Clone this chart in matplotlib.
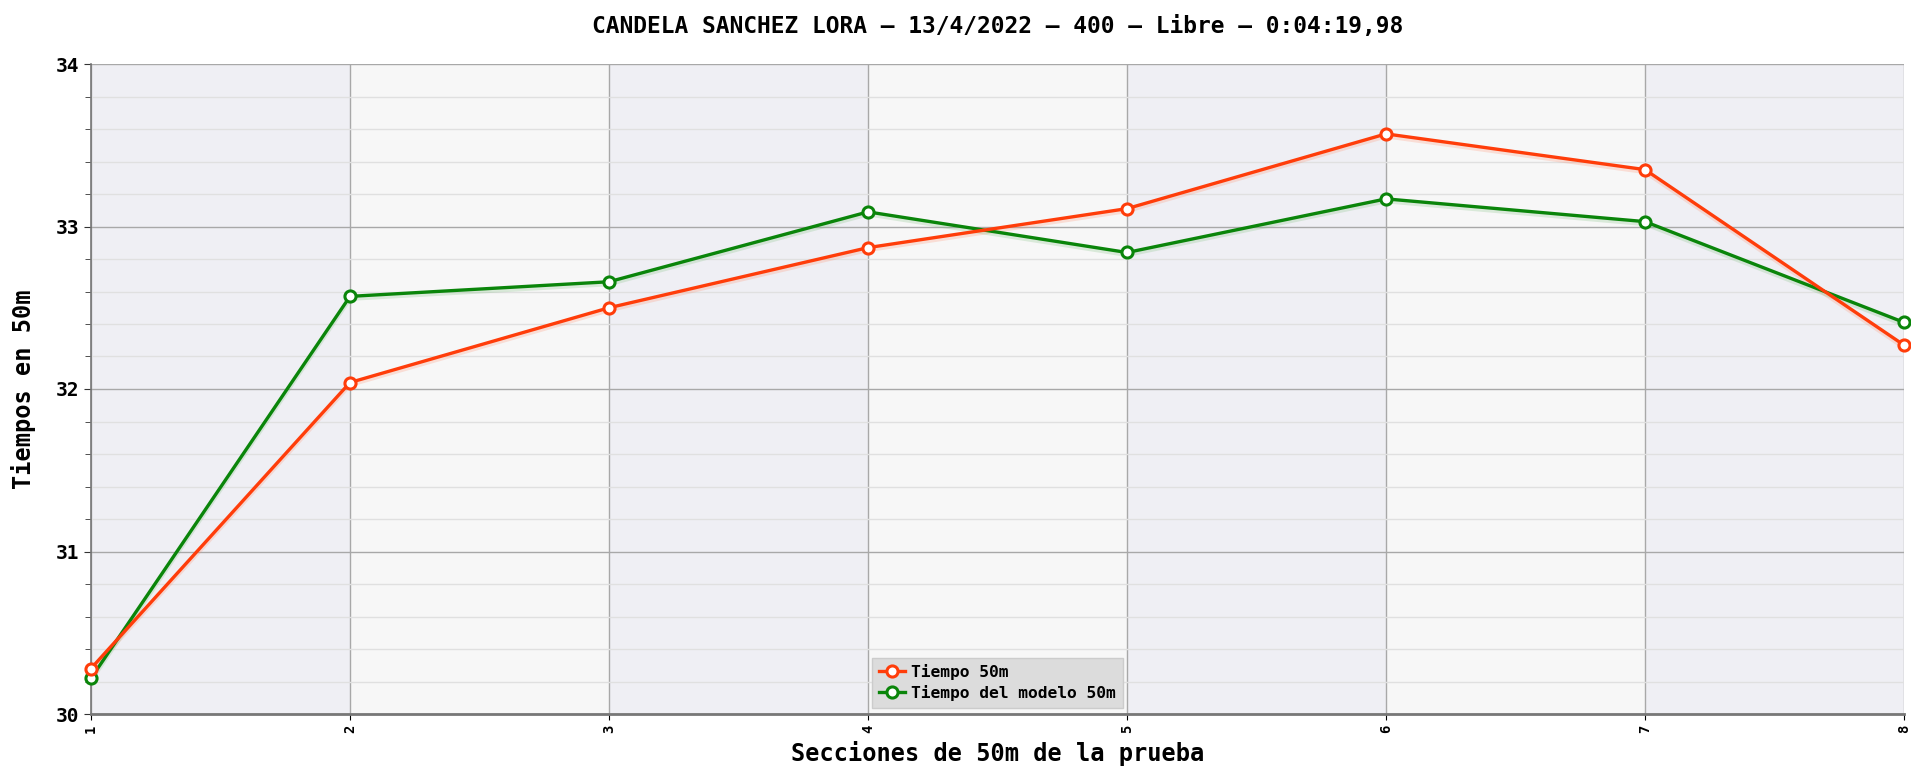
import numpy as np
import matplotlib.pyplot as plt
from matplotlib.ticker import MultipleLocator

plt.rcParams['font.family'] = ['DejaVu Sans Mono']
plt.rcParams['font.weight'] = 'bold'

secciones = [1, 2, 3, 4, 5, 6, 7, 8]
tiempo_50m = [30.28, 32.04, 32.50, 32.87, 33.11, 33.57, 33.35, 32.27]
tiempo_modelo = [30.22, 32.57, 32.66, 33.09, 32.84, 33.17, 33.03, 32.41]

titulo = "CANDELA SANCHEZ LORA \u2013 13/4/2022 \u2013 400 \u2013 Libre \u2013 0:04:19,98"

fig = plt.figure(figsize=(19.11, 7.68), dpi=100)
ax = fig.add_axes([91 / 1911, 54 / 768, 1813 / 1911, 650 / 768])

# bandas alternas de fondo
for i in range(len(secciones) - 1):
    col = "#efeff4" if i % 2 == 0 else "#f7f7f7"
    ax.axvspan(secciones[i], secciones[i + 1], color=col, zorder=0, lw=0)

ax.set_xlim(1, 8)
ax.set_ylim(30, 34)
ax.yaxis.set_major_locator(MultipleLocator(1))
ax.yaxis.set_minor_locator(MultipleLocator(0.2))
ax.set_xticks(secciones)

ax.grid(which="major", axis="y", color="#a8a8a8", lw=1.0, zorder=1)
ax.grid(which="minor", axis="y", color="#e0e0e0", lw=1.0, zorder=1)
ax.grid(which="major", axis="x", color="#a8a8a8", lw=1.0, zorder=1)

# sombras suaves
for ys, c in [(tiempo_50m, "#ff9070"), (tiempo_modelo, "#80c080")]:
    ax.plot(secciones, np.array(ys) - 0.015, color=c, lw=3, alpha=0.25, zorder=2)

ax.plot(secciones, tiempo_50m, color="#ff3d0a", lw=2.4, marker="o", ms=8,
        mfc="white", mec="#ff3d0a", mew=2.2, label="Tiempo 50m", zorder=4, clip_on=False)
ax.plot(secciones, tiempo_modelo, color="#0a850a", lw=2.4, marker="o", ms=8,
        mfc="white", mec="#0a850a", mew=2.2, label="Tiempo del modelo 50m", zorder=3, clip_on=False)

for s in ["top", "right"]:
    ax.spines[s].set_visible(False)
ax.spines["left"].set_color("#777777")
ax.spines["bottom"].set_color("#777777")
ax.spines["bottom"].set_linewidth(2)
ax.spines["left"].set_linewidth(1.2)

ax.tick_params(axis="y", which="major", labelsize=14, length=5, color="#333333")
ax.tick_params(axis="y", which="minor", length=4, color="#333333")
ax.tick_params(axis="x", labelsize=10, rotation=90, length=4)

ax.set_xlabel("Secciones de 50m de la prueba", fontsize=17, fontweight="bold", labelpad=6)
ax.set_ylabel("Tiempos en 50m", fontsize=17, fontweight="bold", labelpad=14)
ax.set_title(titulo, fontsize=16.5, fontweight="bold", pad=22)

leg = ax.legend(loc="lower center", bbox_to_anchor=(0.5, 0.0), fontsize=11.7,
                facecolor="#dcdcdc", edgecolor="#cccccc", framealpha=1,
                handlelength=1.6, handletextpad=0.4, borderpad=0.4,
                labelspacing=0.3, fancybox=False, borderaxespad=0.4)

fig.savefig("out.png", dpi=100)
